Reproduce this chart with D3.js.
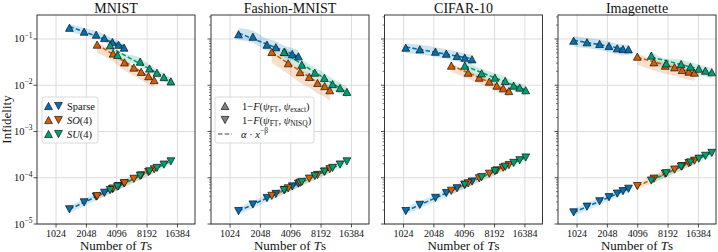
<!DOCTYPE html>
<meta charset="utf-8">
<script src="https://cdn.jsdelivr.net/npm/d3@7"></script>
<style>
  body { margin: 0; background: white; }
  svg { display: block; font-family: "Liberation Serif", "DejaVu Serif", serif; }
</style>
<body>
<svg id="chart" width="718" height="252"></svg>
<script>
// titles, series, ticks
var datasets = ["MNIST", "Fashion-MNIST", "CIFAR-10", "Imagenette"];
var seriesNames = ["Sparse", "SO(4)", "SU(4)"];
var xTicks = [1024, 2048, 4096, 8192, 16384];
var yTicks = [1e-5, 1e-4, 1e-3, 1e-2, 1e-1];
var yTickExp = ["−5", "−4", "−3", "−2", "−1"];

// number of T gates per point, rows = Sparse, SO(4), SU(4)
var mnistT = [
  [1390, 1945, 2560, 3090, 3710, 4270, 4850],
  [2616, 3772, 4888, 6053, 7157, 8465, 9635],
  [3520, 4164, 6994, 8660, 10260, 12025, 14115]];
var fashionT = [
  [1243, 1726, 2380, 2917, 3566, 4241, 4880],
  [2656, 3864, 5069, 6257, 7548, 8890, 9995],
  [3517, 5275, 7103, 8830, 10650, 12632, 14777]];
var cifarT = [
  [1077, 1486, 2121, 2717, 3474, 4144, 4898],
  [3048, 4476, 5768, 7264, 8619, 9966, 11367],
  [4144, 6094, 8254, 10435, 12650, 14535, 16690]];
var imagenetteT = [
  [947, 1286, 1713, 2124, 2566, 2923, 3320],
  [4056, 5930, 7673, 9490, 11298, 13148, 14951],
  [5582, 7850, 11043, 13640, 16530, 19210, 22245]];

// 1 - F(psi_FT, psi_exact)
var mnistExact = [
  [0.175, 0.144, 0.124, 0.105, 0.086, 0.075, 0.065],
  [0.0755, 0.0485, 0.0312, 0.0241, 0.0195, 0.0157, 0.0129],
  [0.0732, 0.0452, 0.0323, 0.0230, 0.0186, 0.0150, 0.0121]];
var fashionExact = [
  [0.1265, 0.112, 0.0753, 0.0662, 0.0524, 0.0474, 0.0423],
  [0.0524, 0.0299, 0.0193, 0.0151, 0.0112, 0.0096, 0.0078],
  [0.0524, 0.0278, 0.0187, 0.0144, 0.0106, 0.0087, 0.0072]];
var cifarExact = [
  [0.0649, 0.0598, 0.0532, 0.0482, 0.0429, 0.0394, 0.0364],
  [0.0265, 0.0187, 0.0146, 0.0120, 0.0098, 0.0086, 0.0075],
  [0.0265, 0.0181, 0.0146, 0.0124, 0.0098, 0.0089, 0.0078]];
var imagenetteExact = [
  [0.0919, 0.0849, 0.078, 0.0706, 0.063, 0.0608, 0.0598],
  [0.0415, 0.0313, 0.0265, 0.0244, 0.0214, 0.0197, 0.0187],
  [0.0436, 0.0298, 0.0288, 0.0252, 0.0228, 0.0206, 0.0191]];

// 1 - F(psi_FT, psi_NISQ)
var mnistNisq = [
  [2.08e-5, 2.94e-5, 3.90e-5, 4.73e-5, 5.72e-5, 6.61e-5, 7.53e-5],
  [3.99e-5, 5.82e-5, 7.60e-5, 9.46e-5, 1.12e-4, 1.33e-4, 1.52e-4],
  [5.41e-5, 6.44e-5, 1.10e-4, 1.37e-4, 1.63e-4, 1.92e-4, 2.26e-4]];
var fashionNisq = [
  [1.90e-5, 2.64e-5, 3.64e-5, 4.46e-5, 5.46e-5, 6.49e-5, 7.47e-5],
  [4.06e-5, 5.91e-5, 7.76e-5, 9.57e-5, 1.15e-4, 1.36e-4, 1.53e-4],
  [5.38e-5, 8.07e-5, 1.09e-4, 1.35e-4, 1.63e-4, 1.93e-4, 2.26e-4]];
var cifarNisq = [
  [1.90e-5, 2.59e-5, 3.66e-5, 4.67e-5, 5.93e-5, 7.04e-5, 8.29e-5],
  [5.22e-5, 7.59e-5, 9.74e-5, 1.22e-4, 1.44e-4, 1.65e-4, 1.88e-4],
  [7.04e-5, 1.03e-4, 1.38e-4, 1.73e-4, 2.09e-4, 2.39e-4, 2.74e-4]];
var imagenetteNisq = [
  [1.78e-5, 2.37e-5, 3.10e-5, 3.80e-5, 4.53e-5, 5.13e-5, 5.78e-5],
  [6.6e-5, 9.54e-5, 1.22e-4, 1.50e-4, 1.78e-4, 2.07e-4, 2.34e-4],
  [8.7e-5, 1.25e-4, 1.74e-4, 2.14e-4, 2.58e-4, 2.98e-4, 3.44e-4]];

// spread of the exact infidelity around each point: [below, above] ratios
var mnistSpread = [[1.2, 1.2], [1.5, 1.1], [1.25, 1.2]];
var fashionSpread = [[1.35, 1.35], [1.7, 1.15], [1.35, 1.3]];
var cifarSpread = [[1.3, 1.25], [1.35, 1.1], [1.3, 1.25]];
var imagenetteSpread = [[1.35, 1.25], [1.5, 1.15], [1.35, 1.25]];
var nisqSpread = [1.2, 1.2];

var allT = [mnistT, fashionT, cifarT, imagenetteT];
var allExact = [mnistExact, fashionExact, cifarExact, imagenetteExact];
var allNisq = [mnistNisq, fashionNisq, cifarNisq, imagenetteNisq];
var allSpread = [mnistSpread, fashionSpread, cifarSpread, imagenetteSpread];

var colors = ["#0072B2", "#D55E00", "#009E73"];

var panelLeft = [37, 211, 384.5, 558];
var panelW = 158;
var plotTop = 15, plotBottom = 224;

var x = d3.scaleLog().base(2).domain([663, 24470]).range([0, panelW]);
var y = d3.scaleLog().domain([1e-5, 0.33]).range([plotBottom, plotTop]);

var svg = d3.select("#chart");

function tri(up) {
  var w = 3.9, h = 3.6;
  return up ? "M0," + (-h) + "L" + w + "," + h + "L" + (-w) + "," + h + "Z"
            : "M0," + h + "L" + w + "," + (-h) + "L" + (-w) + "," + (-h) + "Z";
}

// tspans with italic / sub / sup parts
function rich(text, parts, small) {
  var shift = 0;
  parts.forEach(function(p) {
    var t = text.append("tspan").text(p[0]);
    var target = p[1] == "sub" ? 2.5 : p[1] == "sup" ? -4.5 : 0;
    if (target != shift) { t.attr("dy", target - shift); shift = target; }
    if (p[1] == "sub" || p[1] == "sup") t.attr("font-size", small || 7);
    if (p[1] == "i") t.attr("font-style", "italic");
  });
}

function fit(xs, ys) {
  var lx = xs.map(Math.log), ly = ys.map(Math.log);
  var mx = d3.mean(lx), my = d3.mean(ly);
  var num = d3.sum(lx, function(v, i) { return (v - mx) * (ly[i] - my); });
  var den = d3.sum(lx, function(v) { return (v - mx) * (v - mx); });
  var b = num / den, a = my - b * mx;
  return function(t) { return Math.exp(a + b * Math.log(t)); };
}

datasets.forEach(function(name, pi) {
  var g = svg.append("g").attr("transform", "translate(" + panelLeft[pi] + ",0)");

  // grid
  g.selectAll(".gx").data(xTicks).enter().append("line")
    .attr("x1", function(d) { return x(d); }).attr("x2", function(d) { return x(d); })
    .attr("y1", plotTop).attr("y2", plotBottom)
    .attr("stroke", "#dcdcdc").attr("stroke-width", 1);
  g.selectAll(".gy").data(yTicks).enter().append("line")
    .attr("x1", 0).attr("x2", panelW)
    .attr("y1", function(d) { return y(d); }).attr("y2", function(d) { return y(d); })
    .attr("stroke", "#dcdcdc").attr("stroke-width", 1);

  var clip = "clip" + pi;
  g.append("clipPath").attr("id", clip).append("rect")
    .attr("x", 0).attr("y", plotTop).attr("width", panelW).attr("height", plotBottom - plotTop);
  var plot = g.append("g").attr("clip-path", "url(#" + clip + ")");

  var Ts = allT[pi], ex = allExact[pi], nq = allNisq[pi], sp = allSpread[pi];

  // bands and fits
  [0, 1, 2].forEach(function(si) {
    var pts = Ts[si].map(function(t, k) { return {t: t, e: ex[si][k], n: nq[si][k]}; });
    var band = d3.area().curve(d3.curveMonotoneX).x(function(d) { return x(d.t); });
    plot.append("path").datum(pts)
      .attr("d", band.y0(function(d) { return y(d.e / sp[si][0]); }).y1(function(d) { return y(d.e * sp[si][1]); }))
      .attr("fill", colors[si]).attr("fill-opacity", 0.2);
    plot.append("path").datum(pts)
      .attr("d", band.y0(function(d) { return y(d.n / nisqSpread[0]); }).y1(function(d) { return y(d.n * nisqSpread[1]); }))
      .attr("fill", colors[si]).attr("fill-opacity", 0.16);
  });
  [0, 1, 2].forEach(function(si) {
    var fe = fit(Ts[si], ex[si]), fn = fit(Ts[si], nq[si]);
    var ext = d3.extent(Ts[si]);
    [fe, fn].forEach(function(f) {
      plot.append("line")
        .attr("x1", x(ext[0])).attr("y1", y(f(ext[0])))
        .attr("x2", x(ext[1])).attr("y2", y(f(ext[1])))
        .attr("stroke", colors[si]).attr("stroke-width", 1.6)
        .attr("stroke-dasharray", "4.5,2.2");
    });
  });
  // markers
  [0, 1, 2].forEach(function(si) {
    Ts[si].forEach(function(t, k) {
      plot.append("path").attr("d", tri(true))
        .attr("transform", "translate(" + x(t) + "," + y(ex[si][k]) + ")")
        .attr("fill", colors[si]).attr("stroke", "#111").attr("stroke-width", 0.7);
      plot.append("path").attr("d", tri(false))
        .attr("transform", "translate(" + x(t) + "," + y(nq[si][k]) + ")")
        .attr("fill", colors[si]).attr("stroke", "#111").attr("stroke-width", 0.7);
    });
  });

  // frame
  g.append("rect").attr("x", 0).attr("y", plotTop).attr("width", panelW).attr("height", plotBottom - plotTop)
    .attr("fill", "none").attr("stroke", "#222").attr("stroke-width", 0.9);

  // x ticks
  xTicks.forEach(function(t) {
    g.append("line").attr("x1", x(t)).attr("x2", x(t)).attr("y1", plotBottom).attr("y2", plotBottom + 3.5)
      .attr("stroke", "#222").attr("stroke-width", 0.8);
    g.append("text").attr("x", x(t)).attr("y", 237).attr("text-anchor", "middle")
      .attr("font-size", 10).attr("fill", "#111").text(t);
  });
  var xl = g.append("text").attr("x", panelW / 2).attr("y", 250).attr("text-anchor", "middle")
    .attr("font-size", 13).attr("fill", "#111");
  rich(xl, [["Number of ", "n"], ["T", "i"], ["s", "n"]]);

  // y ticks
  yTicks.forEach(function(t, k) {
    g.append("line").attr("x1", -3.5).attr("x2", 0).attr("y1", y(t)).attr("y2", y(t))
      .attr("stroke", "#222").attr("stroke-width", 0.8);
    if (pi == 0) {
      var lab = g.append("text").attr("x", -4.5).attr("y", y(t) + 3.5).attr("text-anchor", "end")
        .attr("font-size", 10.5).attr("fill", "#111");
      rich(lab, [["10", "n"], [yTickExp[k], "sup"]], 7.5);
    }
  });
  if (pi > 0) {
    var minors = [];
    yTicks.forEach(function(t) { for (var m = 2; m <= 9; m++) if (t * m < 0.33) minors.push(t * m); });
    g.selectAll(".mt").data(minors).enter().append("line")
      .attr("x1", -2).attr("x2", 0)
      .attr("y1", function(d) { return y(d); }).attr("y2", function(d) { return y(d); })
      .attr("stroke", "#222").attr("stroke-width", 0.6);
  }

  // title
  g.append("text").attr("x", panelW / 2).attr("y", 12.5).attr("text-anchor", "middle")
    .attr("font-size", 14).attr("fill", "#111").text(name);
});

// y label
svg.append("text").attr("transform", "translate(11," + ((plotTop + plotBottom) / 2) + ") rotate(-90)")
  .attr("text-anchor", "middle").attr("font-size", 13).attr("fill", "#111").text("Infidelity");

// legend: series colours
var lg1 = svg.append("g").attr("transform", "translate(" + panelLeft[0] + ",0)");
lg1.append("rect").attr("x", 5).attr("y", 97).attr("width", 56).attr("height", 46).attr("rx", 2.5)
  .attr("fill", "white").attr("fill-opacity", 0.85).attr("stroke", "#cfcfcf").attr("stroke-width", 0.8);
var seriesLabels = [[["Sparse", "n"]], [["SO", "i"], ["(4)", "n"]], [["SU", "i"], ["(4)", "n"]]];
seriesLabels.forEach(function(parts, si) {
  var ry = 106 + si * 14;
  lg1.append("path").attr("d", tri(true)).attr("transform", "translate(11.5," + ry + ")")
    .attr("fill", colors[si]).attr("stroke", "#111").attr("stroke-width", 0.7);
  lg1.append("path").attr("d", tri(false)).attr("transform", "translate(21.5," + ry + ")")
    .attr("fill", colors[si]).attr("stroke", "#111").attr("stroke-width", 0.7);
  var t = lg1.append("text").attr("x", 30).attr("y", ry + 3.5).attr("font-size", 10.5).attr("fill", "#111");
  rich(t, parts);
});

// legend: marker meaning
var lg2 = svg.append("g").attr("transform", "translate(" + panelLeft[1] + ",0)");
lg2.append("rect").attr("x", 4).attr("y", 97).attr("width", 99).attr("height", 46).attr("rx", 2.5)
  .attr("fill", "white").attr("fill-opacity", 0.85).attr("stroke", "#cfcfcf").attr("stroke-width", 0.8);
var metricLabels = [
  [["1−", "n"], ["F", "i"], ["(", "n"], ["ψ", "i"], ["FT", "sub"], [", ", "n"], ["ψ", "i"], ["exact", "sub"], [")", "n"]],
  [["1−", "n"], ["F", "i"], ["(", "n"], ["ψ", "i"], ["FT", "sub"], [", ", "n"], ["ψ", "i"], ["NISQ", "sub"], [")", "n"]],
  [["α", "i"], [" · ", "n"], ["x", "i"], ["−β", "sup"]]];
metricLabels.forEach(function(parts, r) {
  var ry = 106 + r * 14;
  if (r < 2) {
    lg2.append("path").attr("d", tri(r == 0)).attr("transform", "translate(14," + ry + ")")
      .attr("fill", "#808080").attr("stroke", "#111").attr("stroke-width", 0.7);
  } else {
    lg2.append("line").attr("x1", 7).attr("x2", 21).attr("y1", ry).attr("y2", ry)
      .attr("stroke", "#808080").attr("stroke-width", 1.6).attr("stroke-dasharray", "4.5,2.2");
  }
  var t = lg2.append("text").attr("x", r < 2 ? 31 : 30).attr("y", ry + 3.5).attr("font-size", 10.5).attr("fill", "#111");
  rich(t, parts, 7.5);
});
</script>
</body>
